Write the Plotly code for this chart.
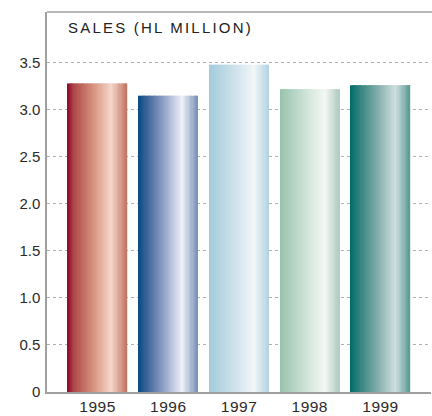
import plotly.graph_objects as go

# ---- data ----
years = ["1995", "1996", "1997", "1998", "1999"]
sales = [3.28, 3.15, 3.48, 3.22, 3.26]
ytick_vals = [0, 0.5, 1.0, 1.5, 2.0, 2.5, 3.0, 3.5]
ytick_text = ["0", "0.5", "1.0", "1.5", "2.0", "2.5", "3.0", "3.5"]
title_text = "SALES (HL MILLION)"

# ---- style: horizontal gradient stops per bar ----
gradients = [
    [(0.0, "#8e0a2c"), (0.12, "#b04a48"), (0.45, "#d89682"), (0.74, "#f5d6ca"), (1.0, "#c27464")],
    [(0.0, "#0a4a82"), (0.18, "#45699c"), (0.5, "#a6b2d2"), (0.74, "#eef0f8"), (1.0, "#7a90b6")],
    [(0.0, "#a3cadb"), (0.45, "#cfe3ec"), (0.76, "#f2f6f7"), (1.0, "#b3d4e3")],
    [(0.0, "#96c3ac"), (0.45, "#d0e3d8"), (0.76, "#f4f7f5"), (1.0, "#b0ccbe")],
    [(0.0, "#006e69"), (0.14, "#2c807b"), (0.5, "#8db3b1"), (0.76, "#cfe0df"), (1.0, "#5a9993")],
]
BAR_W = 0.84
N_SLICES = 48
AXIS_COLOR = "#a0a0a0"


def hex2rgb(h):
    h = h.lstrip("#")
    return tuple(int(h[i:i + 2], 16) for i in (0, 2, 4))


def interp(stops, t):
    for (p0, c0), (p1, c1) in zip(stops[:-1], stops[1:]):
        if p0 <= t <= p1:
            f = (t - p0) / (p1 - p0) if p1 > p0 else 0
            a, b = hex2rgb(c0), hex2rgb(c1)
            return "rgb(%d,%d,%d)" % tuple(round(a[k] + (b[k] - a[k]) * f) for k in range(3))
    return stops[-1][1]


fig = go.Figure()
sw = BAR_W / N_SLICES
for i, (yr, val) in enumerate(zip(years, sales)):
    xs, ys, ws, cols = [], [], [], []
    for j in range(N_SLICES):
        t = (j + 0.5) / N_SLICES
        last = j == N_SLICES - 1
        w = sw if last else sw * 1.4
        xs.append(i - BAR_W / 2 + j * sw + w / 2)
        ys.append(val)
        ws.append(w)
        cols.append(interp(gradients[i], t))
    fig.add_trace(go.Bar(
        x=xs, y=ys, width=ws,
        marker=dict(color=cols, line=dict(width=0)),
        showlegend=False, hoverinfo="skip", name=yr,
    ))

fig.update_layout(
    width=432, height=416,
    margin=dict(l=47, r=1, t=12, b=22),
    paper_bgcolor="white", plot_bgcolor="white",
    barmode="overlay",
    font=dict(family="Liberation Sans, Arial, sans-serif", size=15, color="#2a2a2a"),
    xaxis=dict(
        range=[-0.714, 4.714],
        tickvals=list(range(len(years))),
        ticktext=['<span style="letter-spacing:0.5px">%s</span>' % y for y in years],
        showgrid=False, zeroline=False,
        showline=True, linecolor=AXIS_COLOR, linewidth=1.5,
        ticks="", tickfont=dict(size=15.5),
    ),
    yaxis=dict(
        range=[0, 4.04],
        tickvals=ytick_vals, ticktext=ytick_text,
        showgrid=True, gridcolor="#b0b0b0", gridwidth=1, griddash="dot",
        zeroline=False,
        showline=True, linecolor=AXIS_COLOR, linewidth=1.5,
        ticks="", tickfont=dict(size=15), ticklabelstandoff=2,
    ),
    shapes=[
        dict(type="rect", xref="paper", yref="paper", x0=0.992, x1=1.01, y0=0.005, y1=0.996,
             fillcolor="white", line=dict(width=0), layer="above"),
        dict(type="line", xref="paper", yref="paper", x0=0, x1=1.01, y0=1, y1=1,
             line=dict(color=AXIS_COLOR, width=1.5), layer="above"),
    ],
    annotations=[dict(
        text='<span style="letter-spacing:2.2px">%s</span>' % title_text,
        xref="paper", yref="paper", x=0.05, y=0.958,
        xanchor="left", yanchor="middle", showarrow=False,
        font=dict(family="Liberation Sans, Arial, sans-serif", size=15, color="#222"),
    )],
)
fig.write_html("out.html")
